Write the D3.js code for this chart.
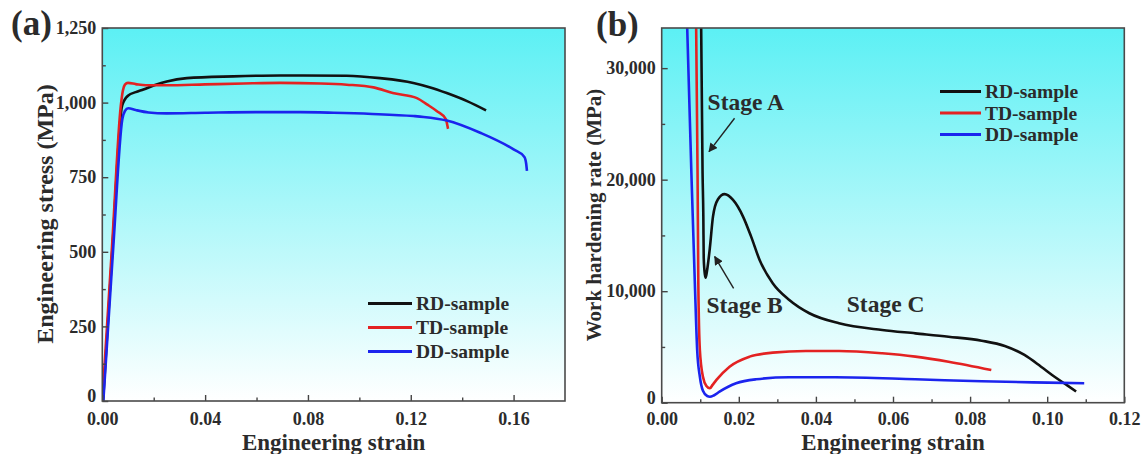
<!DOCTYPE html>
<html><head><meta charset="utf-8">
<script src="https://cdn.jsdelivr.net/npm/d3@7"></script>
<style>
body{margin:0;background:#fff;}
svg{display:block;}
text{font-family:"Liberation Serif","Times New Roman",serif;font-weight:bold;fill:#2b2b2b;}
</style>
</head><body>
<svg id="c" width="1148" height="454"></svg>
<script>
// ---------- shared ----------
const seriesNames = ["RD-sample", "TD-sample", "DD-sample"];
const seriesColors = ["#111111", "#e32222", "#1b24ee"];

// ---------- panel (a): engineering stress-strain ----------
const xTicksA = [0, 0.04, 0.08, 0.12, 0.16];
const xMinorA = [0.02, 0.06, 0.10, 0.14];
const yTicksA = [0, 250, 500, 750, 1000, 1250];
const yMinorA = [125, 375, 625, 875, 1125];

const stressRD = [[0.0003,0],[0.0040,520],[0.0076,985],[0.0084,1005],[0.0092,1016],[0.0101,1024],[0.013,1035],
  [0.016,1044],[0.0205,1059],[0.0251,1071],[0.0329,1082],[0.051,1088],[0.0692,1091],[0.0951,1090],
  [0.108,1082],[0.121,1066],[0.1276,1051],[0.134,1032],[0.1419,1005],[0.1493,974]];
const stressTD = [[0.0,0],[0.0038,520],[0.0072,990],[0.0080,1040],[0.0088,1060],[0.0100,1066],[0.013,1062],
  [0.017,1058],[0.025,1058],[0.04,1061],[0.055,1064],[0.0692,1066],[0.085,1064],[0.0951,1060],
  [0.1055,1051],[0.113,1032],[0.1224,1015],[0.1263,994],[0.1302,971],[0.1337,944],[0.1342,925],[0.1345,912]];
const stressDD = [[0.0004,0],[0.0043,520],[0.0078,945],[0.0088,972],[0.0101,981],[0.013,975],[0.018,967],
  [0.025,964],[0.04,966],[0.06,968],[0.077,968],[0.09,966],[0.105,962],[0.121,955],[0.125,952],
  [0.134,940],[0.147,899],[0.16,843],[0.1642,818],[0.1649,795],[0.1652,771]];

// ---------- panel (b): work hardening rate ----------
const xTicksB = [0, 0.02, 0.04, 0.06, 0.08, 0.10, 0.12];
const xMinorB = [0.01, 0.03, 0.05, 0.07, 0.09, 0.11];
const yTicksB = [0, 10000, 20000, 30000];
const yMinorB = [5000, 15000, 25000];

const hardRD = [[0.0102,35000],[0.0106,20600],[0.0108,16700],[0.0109,13000],[0.0112,11500],[0.0114,11200],
  [0.0117,11700],[0.0125,13900],[0.0133,16690],[0.0146,18250],[0.0163,18700],[0.0185,18180],
  [0.0211,16690],[0.0232,14890],[0.0254,12800],[0.0288,10710],[0.0331,9210],[0.0383,8020],[0.046,7120],
  [0.0572,6520],[0.0658,6220],[0.0744,5920],[0.083,5560],[0.089,5090],[0.0941,4280],[0.0984,3230],
  [0.1019,2330],[0.1053,1530],[0.1075,1000]];
const hardTD = [[0.0089,35000],[0.0093,20600],[0.0095,10700],[0.0099,4730],[0.0107,2330],[0.0116,1500],
  [0.0125,1290],[0.0132,1600],[0.0142,2040],[0.0176,3230],[0.0228,4130],[0.0288,4490],[0.0374,4640],
  [0.046,4640],[0.0572,4430],[0.0658,4130],[0.0744,3680],[0.0855,2930]];
const hardDD = [[0.0065,35000],[0.0077,20600],[0.0086,10700],[0.0092,4730],[0.0099,2330],[0.0107,1070],
  [0.0118,600],[0.0125,540],[0.0135,650],[0.015,990],[0.0193,1740],[0.0245,2100],[0.0331,2280],
  [0.045,2280],[0.0658,2100],[0.083,1920],[0.1002,1800],[0.1096,1740]];

// stage annotations (data coords of panel b)
const stageLabels = [
  {text:"Stage A", x:0.0119, y:26260},
  {text:"Stage B", x:0.0116, y:8020},
  {text:"Stage C", x:0.0480, y:8140}
];
const stageArrows = [
  {from:[0.0189,25510], to:[0.01228,22520]},
  {from:[0.01865,10260], to:[0.01375,13100]}
];

// ---------- drawing ----------
const svg = d3.select("#c");
const defs = svg.append("defs");
const grad = defs.append("linearGradient").attr("id","bg").attr("x1",0).attr("y1",0).attr("x2",0).attr("y2",1);
grad.append("stop").attr("offset","0%").attr("stop-color","#5cf0f4");
grad.append("stop").attr("offset","100%").attr("stop-color","#ffffff");
defs.append("marker").attr("id","arrow").attr("viewBox","0 0 10 10").attr("refX",9).attr("refY",5)
  .attr("markerWidth",9).attr("markerHeight",9).attr("markerUnits","userSpaceOnUse").attr("orient","auto")
  .append("path").attr("d","M0,0L10,5L0,10z").attr("fill","#222");

function panel(cfg){
  const x = d3.scaleLinear().domain(cfg.xDomain).range([cfg.left, cfg.right]);
  const y = d3.scaleLinear().domain(cfg.yDomain).range([cfg.bottom, cfg.top]);
  const g = svg.append("g");
  const w = cfg.right - cfg.left, h = cfg.bottom - cfg.top;
  g.append("rect").attr("x",cfg.left).attr("y",cfg.top).attr("width",w).attr("height",h).attr("fill","url(#bg)");
  defs.append("clipPath").attr("id","clip"+cfg.id).append("rect")
    .attr("x",cfg.left).attr("y",cfg.top).attr("width",w).attr("height",h);

  const line = d3.line().x(d=>x(d[0])).y(d=>y(d[1])).curve(d3.curveMonotoneX);
  const lines = g.append("g").attr("clip-path","url(#clip"+cfg.id+")");
  cfg.series.forEach((s,i)=>{
    lines.append("path").datum(s).attr("d",line).attr("fill","none")
      .attr("stroke",seriesColors[i]).attr("stroke-width",2.6).attr("stroke-linejoin","round");
  });

  // axes
  const ax = d3.axisBottom(x).tickValues(cfg.xTicks).tickFormat(d3.format(".2f"))
    .tickSizeInner(-6).tickSizeOuter(0).tickPadding(cfg.xPad);
  const axMin = d3.axisBottom(x).tickValues(cfg.xMinor).tickFormat("").tickSizeInner(-3.5).tickSizeOuter(0);
  const ay = d3.axisLeft(y).tickValues(cfg.yTicks).tickFormat(d3.format(","))
    .tickSizeInner(-6).tickSizeOuter(0).tickPadding(6);
  const ayMin = d3.axisLeft(y).tickValues(cfg.yMinor).tickFormat("").tickSizeInner(-3.5).tickSizeOuter(0);
  [[ax,"translate(0,"+cfg.bottom+")"],[axMin,"translate(0,"+cfg.bottom+")"],
   [ay,"translate("+cfg.left+",0)"],[ayMin,"translate("+cfg.left+",0)"]].forEach(([a,t],k)=>{
    const ga = g.append("g").attr("transform",t).call(a);
    ga.select(".domain").remove();
    ga.selectAll("line").attr("stroke","#444").attr("stroke-width",1.4);
    ga.selectAll("text").attr("font-size",18).attr("fill","#2b2b2b")
      .attr("font-family","'Liberation Serif','Times New Roman',serif").attr("font-weight","bold");
    if (k===2) ga.selectAll(".tick").filter(d=>d===0).select("text").attr("dy","0.05em");
  });
  g.append("rect").attr("x",cfg.left).attr("y",cfg.top).attr("width",w).attr("height",h)
    .attr("fill","none").attr("stroke","#4a4a4a").attr("stroke-width",1.6);

  // titles
  g.append("text").attr("x",(cfg.left+cfg.right)/2).attr("y",450).attr("text-anchor","middle")
    .attr("font-size",23).text("Engineering strain");
  g.append("text").attr("transform","translate("+cfg.yTitleX+","+cfg.yTitleY+") rotate(-90)")
    .attr("text-anchor","middle").attr("font-size",cfg.yTitleSize).text(cfg.yTitle);
  g.append("text").attr("x",cfg.labelX).attr("y",cfg.labelY).attr("font-size",35).attr("fill","#1a1a1a").text(cfg.label);

  // legend
  seriesNames.forEach((n,i)=>{
    const ly = cfg.legY + i*cfg.legStep;
    g.append("line").attr("x1",cfg.legX1).attr("x2",cfg.legX2).attr("y1",ly).attr("y2",ly)
      .attr("stroke",seriesColors[i]).attr("stroke-width",2.8);
    g.append("text").attr("x",cfg.legX2+4).attr("y",ly+6.5).attr("font-size",19.5).text(n);
  });
  return {x,y,g};
}

panel({id:"a", left:102.3, right:565, top:28, bottom:401,
  xDomain:[0,0.18], yDomain:[0,1250], xTicks:xTicksA, xMinor:xMinorA, yTicks:yTicksA, yMinor:yMinorA,
  xPad:11, series:[stressRD, stressTD, stressDD],
  yTitle:"Engineering stress (MPa)", yTitleX:53, yTitleY:214, yTitleSize:24,
  label:"(a)", labelX:11, labelY:35,
  legX1:368, legX2:412, legY:303.5, legStep:24});

const pb = panel({id:"b", left:661.7, right:1124.3, top:28, bottom:402.7,
  xDomain:[0,0.12], yDomain:[0,33600], xTicks:xTicksB, xMinor:xMinorB, yTicks:yTicksB, yMinor:yMinorB,
  xPad:9.5, series:[hardRD, hardTD, hardDD],
  yTitle:"Work hardening rate (MPa)", yTitleX:601, yTitleY:215, yTitleSize:21,
  label:"(b)", labelX:596, labelY:36,
  legX1:940, legX2:981, legY:91.5, legStep:21.5});

stageLabels.forEach(s=>{
  pb.g.append("text").attr("x",pb.x(s.x)).attr("y",pb.y(s.y)).attr("font-size",23.5).attr("fill","#222").text(s.text);
});
stageArrows.forEach(a=>{
  pb.g.append("line").attr("x1",pb.x(a.from[0])).attr("y1",pb.y(a.from[1]))
    .attr("x2",pb.x(a.to[0])).attr("y2",pb.y(a.to[1])).attr("stroke","#222").attr("stroke-width",1.4)
    .attr("marker-end","url(#arrow)");
});
</script>
</body></html>
